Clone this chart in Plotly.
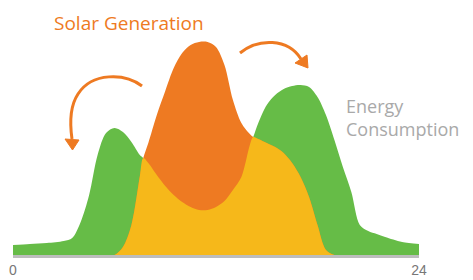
import plotly.graph_objects as go

# ---- data (hours of the day, relative power) ----
hours = [0, 1, 2, 3, 3.5, 4, 4.5, 5, 5.5, 6, 6.5, 7, 7.5, 7.7, 8, 8.5, 9, 9.5, 10, 10.5, 11,
         11.5, 12, 12.5, 13, 13.5, 14, 14.2, 14.5, 15, 15.5, 16, 16.5, 17, 17.5, 18, 18.5,
         19, 19.5, 20, 20.5, 21, 21.5, 22, 23, 24]
consumption = [10, 11, 12, 14, 17, 33, 60, 100, 122, 127, 123, 113, 100, 97, 92, 80, 69, 60, 53, 48, 45,
               45, 48, 54, 65, 78, 110, 118, 132, 150, 160, 166, 169, 170, 168, 158, 140,
               115, 88, 63, 30, 24, 21, 18, 13, 11]
solar = [0, 0, 0, 0, 0, 0, 0, 0, 0, 0, 8, 30, 79, 97, 112, 140, 164, 187, 202, 210, 213,
         213, 208, 190, 155, 132, 121, 118, 116, 112, 108, 102, 92, 78, 58, 30, 5,
         0, 0, 0, 0, 0, 0, 0, 0, 0]
self_used = [min(c, s) for c, s in zip(consumption, solar)]

tick_vals = [0, 24]
tick_text = ["0", "24"]

GREEN = "#66BC47"
ORANGE = "#EE7A22"
YELLOW = "#F6B81A"

W, H = 473, 280
ML, MR, MT, MB = 13, 54, 0, 25
PW, PH = W - ML - MR, H - MT - MB
YMAX = 255


def px(xp, yp):
    """pixel position -> data coords (for decorative arrows only)"""
    return (xp - ML) / PW * 24, (H - MB - yp) / PH * YMAX


def path(cmds):
    out = []
    for c in cmds:
        if isinstance(c, str):
            out.append(c)
        else:
            x, y = px(*c)
            out.append(f"{x:.4f},{y:.4f}")
    return " ".join(out)


fig = go.Figure()
for ys, col in [(consumption, GREEN), (solar, ORANGE), (self_used, YELLOW)]:
    fig.add_trace(go.Scatter(x=hours, y=ys, mode="lines", fill="tozeroy",
                             fillcolor=col, line=dict(width=0, shape="spline", smoothing=0.9),
                             hoverinfo="skip", showlegend=False))

# curved arrows
left_arc = path(["M", (142, 86), "C", (125, 73), (92, 72), (78, 94), "C", (70, 106), (70, 125), (72, 139)])
left_head = path(["M", (65, 139), "L", (79, 140), "L", (72.5, 150), "Z"])
right_arc = path(["M", (240, 53), "C", (258, 38), (288, 38), (301, 59)])
right_head = path(["M", (295, 63), "L", (307, 55), "L", (308, 68), "Z"])
shapes = [
    dict(type="path", xref="x", yref="y", path=left_arc, line=dict(color=ORANGE, width=3)),
    dict(type="path", xref="x", yref="y", path=left_head, line=dict(color=ORANGE, width=1), fillcolor=ORANGE),
    dict(type="path", xref="x", yref="y", path=right_arc, line=dict(color=ORANGE, width=3)),
    dict(type="path", xref="x", yref="y", path=right_head, line=dict(color=ORANGE, width=1), fillcolor=ORANGE),
]

annotations = [
    dict(text="Solar Generation", xref="paper", yref="paper", x=(52 - ML) / PW, y=(H - MB - 23) / PH,
         xanchor="left", yanchor="middle", showarrow=False,
         font=dict(family="Open Sans", size=19, color=ORANGE)),
    dict(text="Energy<br>Consumption", xref="paper", yref="paper", x=(344 - ML) / PW, y=(H - MB - 117) / PH,
         xanchor="left", yanchor="middle", align="left", showarrow=False,
         font=dict(family="Open Sans", size=18, color="#A9A9A9")),
]

fig.update_layout(
    width=W, height=H, margin=dict(l=ML, r=MR, t=MT, b=MB),
    paper_bgcolor="white", plot_bgcolor="white",
    shapes=shapes, annotations=annotations,
    xaxis=dict(range=[0, 24], tickvals=tick_vals, ticktext=tick_text, showgrid=False, zeroline=False,
               showline=True, linecolor="#BDBDBD", linewidth=3, ticks="",
               tickfont=dict(family="Liberation Sans", size=14, color="#777777")),
    yaxis=dict(range=[0, YMAX], visible=False, showgrid=False, zeroline=False),
)

fig.write_html("out.html", config={"displayModeBar": False},
               post_script="document.body.style.margin='0';document.body.style.overflow='hidden';")
